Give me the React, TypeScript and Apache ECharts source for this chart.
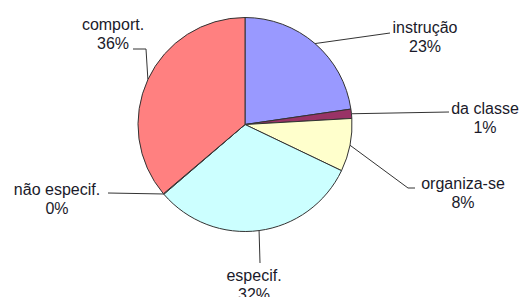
import React, { useEffect, useRef } from "react";
import * as echarts from "echarts";

const categories = ["instrução", "da classe", "organiza-se", "especif.", "não especif.", "comport."];
const values = [22.7, 1.4, 8.0, 31.6, 0.1, 36.2];
const colors = ["#9999FF", "#993366", "#FFFFCC", "#CCFFFF", "#FFFFFF", "#FF8080"];

// label placement (layout only)
const labelPos: { x: number; y: number; line: number[][] }[] = [
  { x: 425, y: 37, line: [[390, 33]] },
  { x: 485, y: 118, line: [[449, 112]] },
  { x: 463, y: 193, line: [[408, 188], [415, 188]] },
  { x: 254, y: 285, line: [[260, 263]] },
  { x: 57, y: 199, line: [[108, 193]] },
  { x: 113, y: 34, line: [[146, 49], [133, 49]] },
];

export default function App() {
  const ref = useRef<HTMLDivElement>(null);
  useEffect(() => {
    document.body.style.margin = "0";
    const chart = echarts.init(ref.current!, null, { renderer: "svg" });
    chart.setOption({
      animation: false,
      backgroundColor: "#ffffff",
      series: [
        {
          type: "pie",
          center: [245, 124.5],
          radius: 107,
          startAngle: 90,
          clockwise: true,
          avoidLabelOverlap: false,
          percentPrecision: 0,
          itemStyle: { borderColor: "#333", borderWidth: 1 },
          label: {
            show: true,
            position: "outside",
            formatter: "{b}\n{d}%",
            fontFamily: "Liberation Sans, Arial, sans-serif",
            fontSize: 16,
            lineHeight: 19,
            color: "#1a1a2a",
            align: "center",
          },
          labelLine: {
            show: true,
            lineStyle: { color: "#333", width: 1 },
          },
          labelLayout: (params: any) => {
            const p = labelPos[params.dataIndex];
            const start = params.labelLinePoints ? params.labelLinePoints[0] : p.line[0];
            return {
              x: p.x,
              y: p.y,
              align: "center",
              verticalAlign: "middle",
              labelLinePoints: [start, ...p.line],
            };
          },
          data: categories.map((name, i) => ({
            name,
            value: values[i],
            itemStyle: { color: colors[i] },
          })),
        },
      ],
    });
    return () => chart.dispose();
  }, []);
  return <div ref={ref} style={{ width: 524, height: 297 }} />;
}
